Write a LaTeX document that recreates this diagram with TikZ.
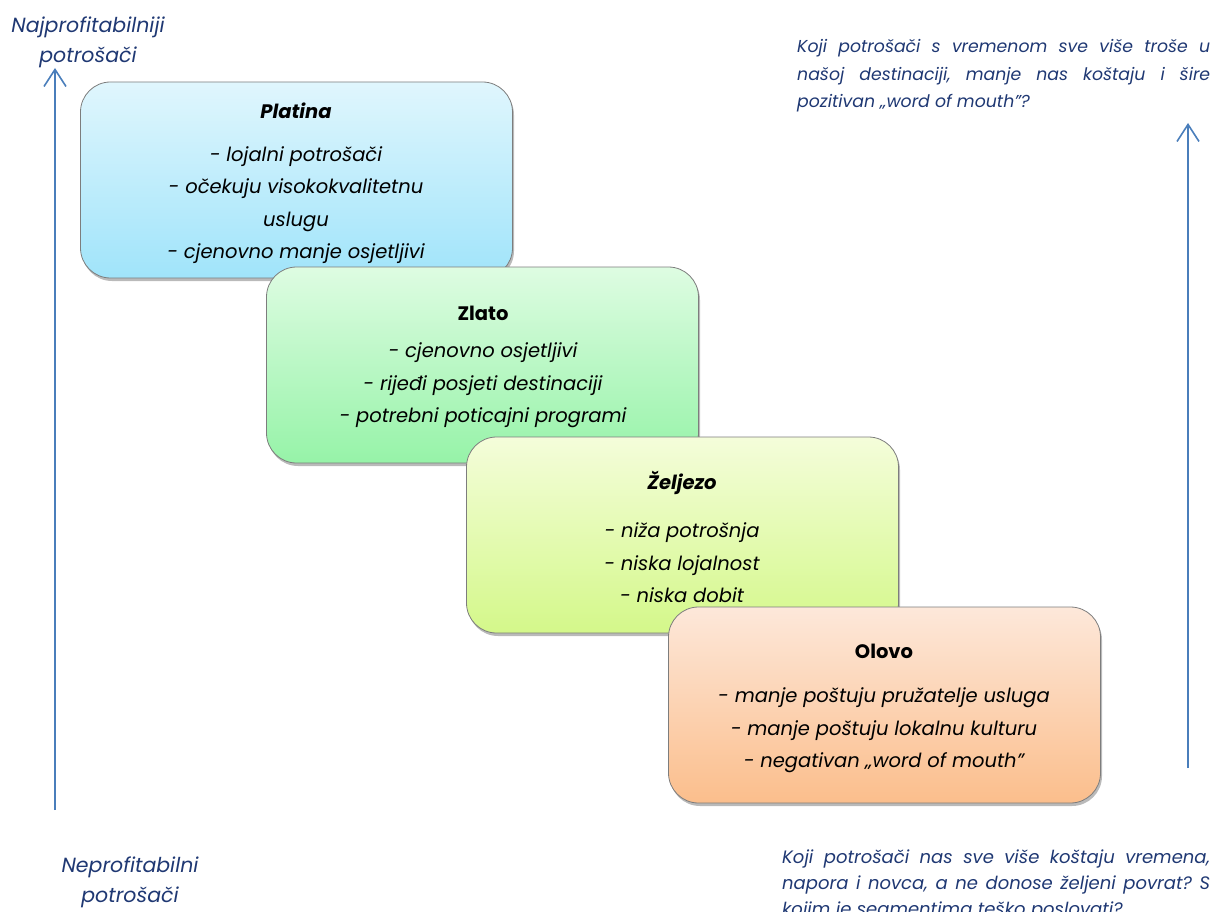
\documentclass[tikz,border=0pt]{standalone}
\usepackage{fontspec}
\setmainfont{Poppins}
\usetikzlibrary{arrows.meta,shadows}
\definecolor{navy}{RGB}{31,56,115}
\definecolor{arrowblue}{RGB}{74,126,187}
\definecolor{boxline}{RGB}{125,125,125}
\definecolor{ptop}{RGB}{224,246,253}
\definecolor{pbot}{RGB}{160,228,250}
\definecolor{ztop}{RGB}{222,252,226}
\definecolor{zbot}{RGB}{150,243,168}
\definecolor{ftop}{RGB}{244,253,218}
\definecolor{fbot}{RGB}{212,248,138}
\definecolor{otop}{RGB}{253,232,218}
\definecolor{obot}{RGB}{251,190,140}
\newcommand{\nohyph}{\hyphenpenalty=10000\relax\exhyphenpenalty=10000\relax}
\tikzset{
  x=1pt, y=-1pt,
  box/.style={draw=boxline, line width=0.8pt, rounded corners=30pt,
    minimum width=432pt, minimum height=196pt, inner sep=0pt,
    drop shadow={shadow xshift=1.5pt, shadow yshift=-3pt, opacity=0.45, fill=black!60}},
  boxtext/.style={anchor=north, inner sep=0pt, align=center, text=black,
    font=\fontsize{19.5}{32.5}\selectfont\itshape},
  axis/.style={draw=arrowblue, line width=1.6pt, -{Straight Barb[length=17pt,width=22pt,line width=1.6pt]}},
  label/.style={inner sep=0pt, align=center, text=navy, font=\fontsize{20.5}{30}\selectfont\itshape},
  question/.style={inner sep=0pt, anchor=north west, text width=413pt, align=justify, text=navy,
    font=\fontsize{17.3}{27.5}\selectfont\itshape\frenchspacing\nohyph},
}
\begin{document}
\begin{tikzpicture}
\useasboundingbox (0,0) rectangle (1225,912);
% axes
\coordinate (lbot) at (55,810);
\coordinate (ltop) at (55,68);
\draw[axis] (lbot) -- (ltop);
\coordinate (rbot) at (1188,768);
\coordinate (rtop) at (1188,123);
\draw[axis] (rbot) -- (rtop);
% labels
\node[label, anchor=north] (top) at (88,17) {Najprofitabilniji\\potrošači};
\node[label, anchor=north] (bottom) at (130,857) {Neprofitabilni\\potrošači};
\node[question] (q1) at (797,39.5) {Koji potrošači s vremenom sve više troše u\linebreak{} našoj destinaciji, manje nas koštaju i šire\linebreak{} pozitivan „word of mouth”?};
\node[question, text width=428pt, font=\fontsize{18}{26}\selectfont\itshape\frenchspacing\nohyph] (q2) at (782,849.5) {Koji potrošači nas sve više koštaju vremena, napora i novca, a ne donose željeni povrat? S kojim je segmentima teško poslovati?};
% boxes
\node[box, top color=ptop, bottom color=pbot] (platina) at (296.5,180) {};
\node[boxtext] (platinatxt) at (296,103) {\textbf{Platina}\\[10pt]- lojalni potrošači\\- očekuju visokokvalitetnu\\uslugu\\- cjenovno manje osjetljivi};
\node[box, top color=ztop, bottom color=zbot] (zlato) at (482.5,365) {};
\node[boxtext] (zlatotxt) at (483,306) {\textbf{\upshape Zlato}\\[4.5pt]- cjenovno osjetljivi\\- rijeđi posjeti destinaciji\\- potrebni poticajni programi};
\node[box, top color=ftop, bottom color=fbot] (zeljezo) at (682.5,535) {};
\node[boxtext] (zeljezotxt) at (682,471) {\textbf{Željezo}\\[15.5pt]- niža potrošnja\\- niska lojalnost\\- niska dobit};
\node[box, top color=otop, bottom color=obot] (olovo) at (884.5,705) {};
\node[boxtext] (olovotxt) at (884,644) {\textbf{\upshape Olovo}\\[11.5pt]- manje poštuju pružatelje usluga\\- manje poštuju lokalnu kulturu\\- negativan „word of mouth”};
\end{tikzpicture}
\end{document}
